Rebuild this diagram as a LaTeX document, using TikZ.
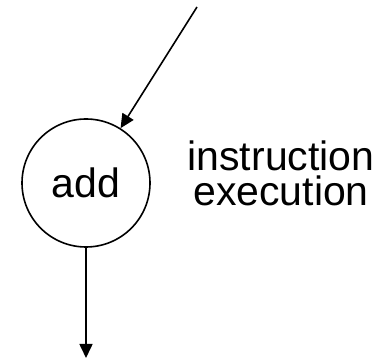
\documentclass[tikz,border=0pt]{standalone}
\usepackage{fontspec}
\setmainfont{Liberation Sans}
\usetikzlibrary{arrows.meta}
\tikzstyle{op} = [circle, draw=black, line width=1.6pt, minimum size=128pt, inner sep=0pt, font=\fontsize{41}{35}\selectfont]
\tikzstyle{label} = [align=center, font=\fontsize{41}{35}\selectfont]
\tikzstyle{arrow} = [line width=1.6pt,-{Triangle[length=14pt,width=13pt]}]

\begin{document}
\begin{tikzpicture}[x=1pt,y=1pt]
\useasboundingbox (0,0) rectangle (383,358);

\node (add) [op] at (86,175) {add};
\node (note) [label] at (281,185) {instruction\\execution};
\coordinate (src) at (197,351);
\coordinate (sink) at (86,0);

\draw [arrow] (src) -- (add);
\draw [arrow] (add) -- (sink);

\end{tikzpicture}
\end{document}
